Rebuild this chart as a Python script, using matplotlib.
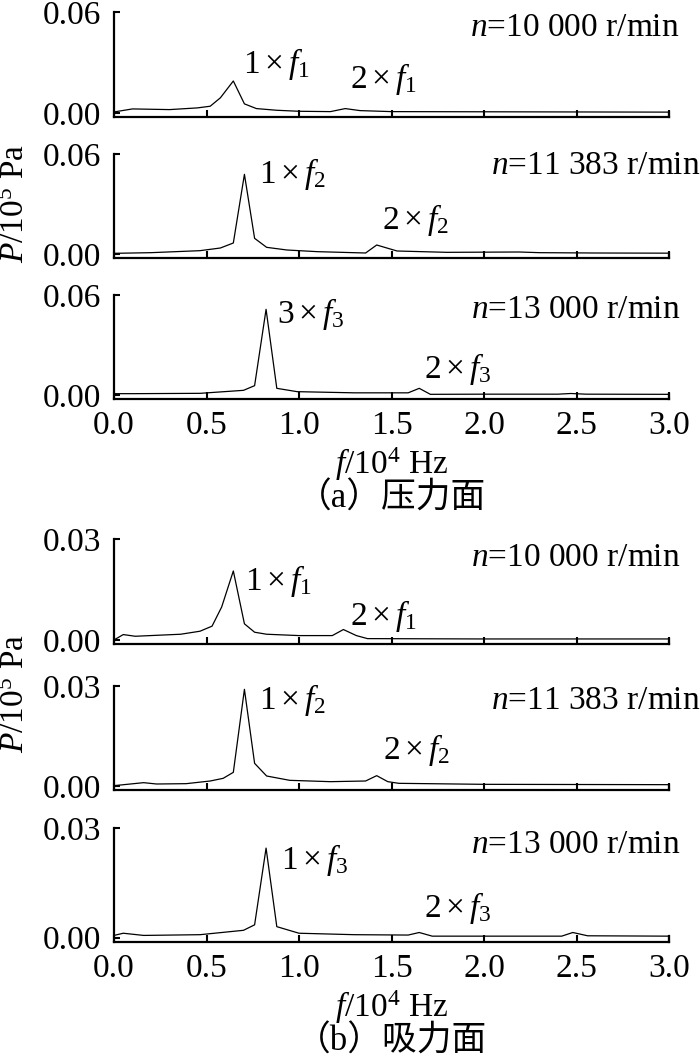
import matplotlib
matplotlib.use("Agg")
import matplotlib.pyplot as plt

plt.rcParams['font.family'] = ['Liberation Serif', 'Noto Sans CJK SC']
plt.rcParams['mathtext.fontset'] = 'custom'
plt.rcParams['mathtext.rm'] = 'Liberation Serif'
plt.rcParams['mathtext.it'] = 'Liberation Serif:italic'

# ---------------- data (f in 10^4 Hz, P in 10^5 Pa) ----------------
p1_f = [0.00, 0.10, 0.30, 0.45, 0.52, 0.575, 0.645, 0.705, 0.77, 0.88, 1.00, 1.17, 1.25, 1.33, 1.50, 2.00, 2.50, 3.00]
p1_P = [0.0006, 0.0024, 0.0020, 0.0030, 0.0040, 0.0090, 0.0190, 0.0054, 0.0026, 0.0016, 0.0010, 0.0008, 0.0026, 0.0014, 0.0008, 0.0007, 0.0006, 0.0005]

p2_f = [0.00, 0.20, 0.465, 0.575, 0.645, 0.705, 0.76, 0.825, 0.935, 1.10, 1.36, 1.42, 1.53, 1.80, 2.19, 2.30, 2.60, 3.00]
p2_P = [0.0004, 0.0008, 0.0020, 0.0036, 0.0066, 0.0478, 0.0094, 0.0040, 0.0024, 0.0014, 0.0006, 0.0054, 0.0018, 0.0010, 0.0012, 0.0008, 0.0006, 0.0005]

p3_f = [0.00, 0.10, 0.465, 0.70, 0.76, 0.822, 0.88, 0.99, 1.30, 1.59, 1.65, 1.71, 2.00, 2.40, 2.47, 2.55, 3.00]
p3_P = [0.0008, 0.0008, 0.0010, 0.0028, 0.0056, 0.0514, 0.0040, 0.0020, 0.0013, 0.0013, 0.0040, 0.0004, 0.0005, 0.0005, 0.0009, 0.0005, 0.0004]

p4_f = [0.00, 0.05, 0.115, 0.36, 0.465, 0.53, 0.582, 0.645, 0.705, 0.76, 0.825, 1.00, 1.18, 1.24, 1.31, 1.37, 2.00, 3.00]
p4_P = [0.0000, 0.0016, 0.0011, 0.0017, 0.0026, 0.0041, 0.0098, 0.0205, 0.0048, 0.0023, 0.0017, 0.0013, 0.0013, 0.0031, 0.0013, 0.0004, 0.0003, 0.0003]

p5_f = [0.00, 0.16, 0.23, 0.39, 0.52, 0.59, 0.645, 0.705, 0.76, 0.825, 0.95, 1.17, 1.36, 1.42, 1.48, 1.54, 2.00, 3.00]
p5_P = [0.0001, 0.0010, 0.0006, 0.0007, 0.0015, 0.0023, 0.0041, 0.0290, 0.0068, 0.0030, 0.0017, 0.0013, 0.0015, 0.0031, 0.0013, 0.0008, 0.0005, 0.0004]

p6_f = [0.00, 0.05, 0.16, 0.465, 0.70, 0.76, 0.822, 0.88, 1.00, 1.30, 1.59, 1.65, 1.72, 2.00, 2.42, 2.48, 2.56, 3.00]
p6_P = [0.0006, 0.0012, 0.0006, 0.0008, 0.0020, 0.0035, 0.0245, 0.0030, 0.0012, 0.0008, 0.0007, 0.0014, 0.0004, 0.0004, 0.0004, 0.0014, 0.0005, 0.0004]

speeds = ['10 000', '11 383', '13 000', '10 000', '11 383', '13 000']
peak1_labels = [r'$1\times f_1$', r'$1\times f_2$', r'$3\times f_3$',
                r'$1\times f_1$', r'$1\times f_2$', r'$1\times f_3$']
peak2_labels = [r'$2\times f_1$', r'$2\times f_2$', r'$2\times f_3$',
                r'$2\times f_1$', r'$2\times f_2$', r'$2\times f_3$']
ymax = [0.06, 0.06, 0.06, 0.03, 0.03, 0.03]
yticklabels = [['0.00', '0.06']] * 3 + [['0.00', '0.03']] * 3
xticks = [0.0, 0.5, 1.0, 1.5, 2.0, 2.5, 3.0]
xticklabels = ['0.0', '0.5', '1.0', '1.5', '2.0', '2.5', '3.0']
captions = ['（a）压力面', '（b）吸力面']

series = [(p1_f, p1_P), (p2_f, p2_P), (p3_f, p3_P),
          (p4_f, p4_P), (p5_f, p5_P), (p6_f, p6_P)]

# ---------------- layout (pixels) ----------------
W, H = 700, 1057
fig = plt.figure(figsize=(W / 100, H / 100), dpi=100)

def fx(x):
    return x / W

def fy(y):
    return 1 - y / H

ax_left, ax_right = 114, 669
panel_px = [(12, 117), (154, 258), (295, 399), (539, 644), (686, 790), (828, 942)]
# annotation positions: (x, baseline y) in pixels
peak1_pos = [(243, 73), (259, 183), (277, 323), (245, 590), (259, 709), (281, 869)]
peak2_pos = [(350, 88), (382, 229), (424, 378), (350, 625), (383, 759), (424, 917)]
speed_pos = [(679, 36), (700, 174), (680, 318), (680, 566), (700, 709), (680, 853)]

FS = 24
LW_AX = 1.6

for i, ((f, P), (top, bot)) in enumerate(zip(series, panel_px)):
    ax = fig.add_axes([fx(ax_left), fy(bot), fx(ax_right - ax_left), (bot - top) / H])
    ax.plot(f, P, color='black', lw=0.9)
    ylo = -0.04 * ymax[i]
    ax.set_xlim(0, 3.0)
    ax.set_ylim(ylo, ymax[i])
    ax.spines['top'].set_visible(False)
    ax.spines['right'].set_bounds(ylo, P[-1])
    for s in ['left', 'bottom', 'right']:
        ax.spines[s].set_linewidth(LW_AX)
    ax.set_xticks(xticks)
    ax.set_yticks([0.0, ymax[i]])
    ax.set_yticklabels(yticklabels[i])
    ax.tick_params(axis='x', direction='in', length=5, width=1.5, pad=8, labelsize=FS)
    ax.tick_params(axis='y', direction='in', length=4, width=1.5, pad=9, labelsize=FS)
    ax.tick_params(axis='y', which='both', right=False)
    if i in (2, 5):
        ax.set_xticklabels(xticklabels)
    else:
        ax.set_xticklabels([])
    ax.patch.set_alpha(0)

    fig.text(fx(peak1_pos[i][0]), fy(peak1_pos[i][1]), peak1_labels[i],
             fontsize=FS, ha='left', va='baseline')
    fig.text(fx(peak2_pos[i][0]), fy(peak2_pos[i][1]), peak2_labels[i],
             fontsize=FS, ha='left', va='baseline')
    fig.text(fx(speed_pos[i][0]), fy(speed_pos[i][1]), r'$n$=' + speeds[i] + ' r/min',
             fontsize=FS, ha='right', va='baseline')

xc = (ax_left + ax_right) / 2
# y labels
fig.text(fx(16), fy(203), r'$P$/10$^5$ Pa', rotation=90, fontsize=FS, ha='center', va='center')
fig.text(fx(16), fy(693), r'$P$/10$^5$ Pa', rotation=90, fontsize=FS, ha='center', va='center')
# x labels
fig.text(fx(xc), fy(464), r'$f$/10$^4$ Hz', fontsize=FS, ha='center', va='center')
fig.text(fx(xc), fy(1007), r'$f$/10$^4$ Hz', fontsize=FS, ha='center', va='center')
# captions
fig.text(fx(xc), fy(499), captions[0], fontsize=25, ha='center', va='center')
fig.text(fx(xc), fy(1042), captions[1], fontsize=25, ha='center', va='center')

fig.savefig('out.png', dpi=100)
